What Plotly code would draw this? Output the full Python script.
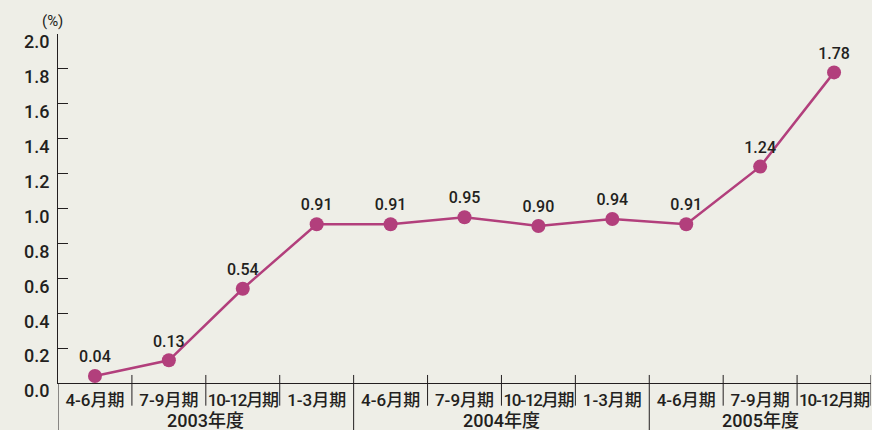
import plotly.graph_objects as go

quarters = ["4-6月期", "7-9月期", "10-12月期", "1-3月期",
            "4-6月期", "7-9月期", "10-12月期", "1-3月期",
            "4-6月期", "7-9月期", "10-12月期"]
values = [0.04, 0.13, 0.54, 0.91, 0.91, 0.95, 0.90, 0.94, 0.91, 1.24, 1.78]
fiscal_years = ["2003年度", "2004年度", "2005年度"]
year_sizes = [4, 4, 3]
y_ticks = [0.0, 0.2, 0.4, 0.6, 0.8, 1.0, 1.2, 1.4, 1.6, 1.8, 2.0]

FONT = "Roboto, Noto Sans CJK JP, Liberation Sans, sans-serif"
TXT = "#231f20"
LINE = "#b23f7c"
BG = "#eeeee7"

x = list(range(len(values)))

fig = go.Figure()
fig.add_trace(go.Scatter(
    x=x, y=values, mode="lines+markers+text",
    line=dict(color=LINE, width=2.5),
    marker=dict(color=LINE, size=14),
    text=[f"{v:.2f}" for v in values],
    textposition="top center",
    textfont=dict(family=FONT, size=16, color=TXT, weight=500),
    cliponaxis=False, hoverinfo="skip", showlegend=False,
))

shapes = []
n = len(values)
bounds = []
acc = 0
for s in year_sizes:
    acc += s
    bounds.append(acc)
for i in range(1, n + 1):
    long_ = i in bounds[:-1]
    shapes.append(dict(type="line", xref="x", yref="paper",
                       x0=i - 0.5, x1=i - 0.5, y0=0.023,
                       y1=-0.135 if long_ else -0.065,
                       line=dict(color=TXT, width=1)))
shapes.append(dict(type="line", xref="x", yref="paper", x0=-0.5, x1=-0.5,
                   y0=0, y1=-0.135, line=dict(color=TXT, width=1)))

annotations = []
start = 0
for name, s in zip(fiscal_years, year_sizes):
    c = start + (s - 1) / 2
    annotations.append(dict(x=c, y=-0.107, xref="x", yref="paper", text=name,
                            showarrow=False, yanchor="middle",
                            font=dict(family=FONT, size=18, color=TXT, weight=500)))
    start += s
annotations.append(dict(x=-0.022, y=1.037, xref="paper", yref="paper",
                        text="(%)", showarrow=False, yanchor="middle",
                        font=dict(family=FONT, size=15, color=TXT)))


def tick_label(q):
    if q.startswith("10-"):
        return '<span style="letter-spacing:-1.2px">%s</span>' % q
    return q


tick_text = [tick_label(q) for q in quarters]

fig.update_layout(
    width=872, height=430,
    margin=dict(l=58, r=1, t=34, b=47),
    paper_bgcolor=BG, plot_bgcolor=BG,
    shapes=shapes, annotations=annotations,
    xaxis=dict(range=[-0.5, n - 0.5], tickvals=x, ticktext=tick_text,
               showgrid=False, zeroline=False, showline=True,
               linecolor=TXT, linewidth=1, ticks="", automargin=False,
               tickfont=dict(family=FONT, size=17, color=TXT, weight=500),
               ticklabelstandoff=2),
    yaxis=dict(range=[0, 2.0], tickvals=y_ticks,
               ticktext=[f"{v:.1f}" for v in y_ticks],
               showgrid=False, zeroline=False, showline=True,
               linecolor=TXT, linewidth=1, ticks="inside", ticklen=10,
               tickcolor=TXT, tickwidth=1, automargin=False,
               tickfont=dict(family=FONT, size=18, color=TXT, weight=500),
               ticklabelshift=8, ticklabelstandoff=4),
)
fig.write_html("out.html", config={"displayModeBar": False},
               post_script="document.body.style.margin='0';document.body.style.background='%s';" % BG)
